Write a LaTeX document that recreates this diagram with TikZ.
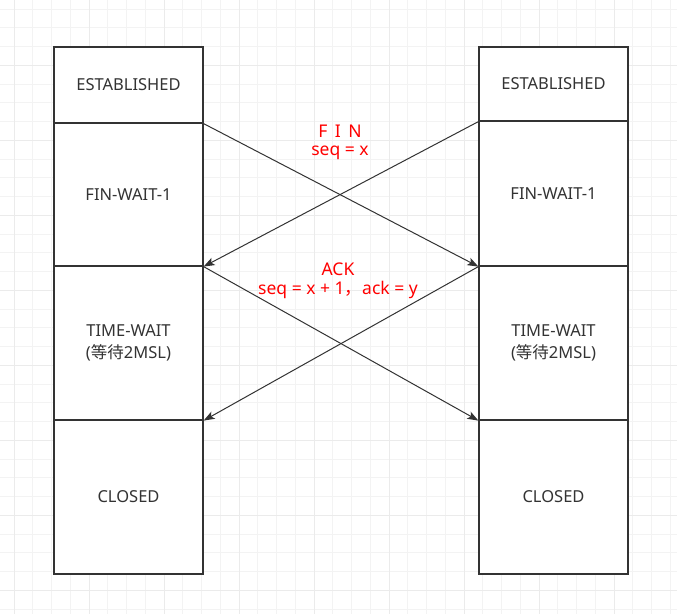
\documentclass[tikz,border=0pt]{standalone}
\usepackage{fontspec}
\setmainfont{Noto Sans}
\newfontfamily\cjk{Noto Sans CJK SC}
\usetikzlibrary{arrows.meta}
\definecolor{txtgray}{HTML}{333333}
\definecolor{linegray}{HTML}{333333}
\definecolor{gridminor}{HTML}{F3F3F3}
\definecolor{gridmajor}{HTML}{EBEBEB}
\definecolor{lblred}{HTML}{FF0000}
\tikzset{
  cell/.style={draw=linegray, line width=1.2pt, fill=white, minimum width=149pt,
    inner sep=0pt, align=center, text=txtgray, font=\fontsize{16.5}{22}\selectfont},
  msg/.style={draw=linegray, line width=1pt, -{Stealth[length=11pt, width=8pt, inset=2.5pt]}},
  lbl/.style={text=lblred, font=\fontsize{17.5}{20}\selectfont, inner sep=0pt},
  minorgrid/.style={draw=gridminor, line width=1pt},
  majorgrid/.style={draw=gridmajor, line width=1pt}
}
\begin{document}
\begin{tikzpicture}[x=1pt,y=-1pt]
\useasboundingbox (0,0) rectangle (677,614);
\fill[white] (0,0) rectangle (677,614);
% grid
\foreach \k in {0,...,35} {
  \pgfmathsetmacro\xx{14+18.75*\k}
  \draw[minorgrid] (\xx,0) -- (\xx,614);
}
\foreach \k in {0,...,32} {
  \pgfmathsetmacro\yy{9+18.75*\k}
  \draw[minorgrid] (0,\yy) -- (677,\yy);
}
\foreach \k in {0,...,8} {
  \pgfmathsetmacro\xx{14+75*\k}
  \draw[majorgrid] (\xx,0) -- (\xx,614);
}
\foreach \k in {0,...,7} {
  \pgfmathsetmacro\yy{65.75+75*\k}
  \draw[majorgrid] (0,\yy) -- (677,\yy);
}
% left column
\node[cell, minimum height=76pt]  (L1) at (128.5,85)   {ESTABLISHED};
\node[cell, minimum height=143pt] (L2) at (128.5,194.5) {FIN-WAIT-1};
\node[cell, minimum height=154pt] (L3) at (128.5,343)   {TIME-WAIT\\({\cjk 等待}2MSL)};
\node[cell, minimum height=154pt] (L4) at (128.5,497)   {CLOSED};
% right column
\node[cell, minimum height=74pt]  (R1) at (553.5,84)   {ESTABLISHED};
\node[cell, minimum height=145pt] (R2) at (553.5,193.5) {FIN-WAIT-1};
\node[cell, minimum height=154pt] (R3) at (553.5,343)   {TIME-WAIT\\({\cjk 等待}2MSL)};
\node[cell, minimum height=154pt] (R4) at (553.5,497)   {CLOSED};
% messages
\draw[msg] (L1.south east) -- (R2.south west);
\draw[msg] (R1.south west) -- (L2.south east);
\draw[msg] (L2.south east) -- (R3.south west);
\draw[msg] (R2.south west) -- (L3.south east);
% labels
\node[lbl] (fin) at (340,131) {F\hspace{3pt} I\hspace{3pt} N};
\node[lbl] (seqx) at (340,153) {seq = x};
\node[lbl] (ack) at (338,269) {ACK};
\node[lbl] (seqack) at (338,290) {seq = x + 1{\cjk ，}ack = y};
\end{tikzpicture}
\end{document}
